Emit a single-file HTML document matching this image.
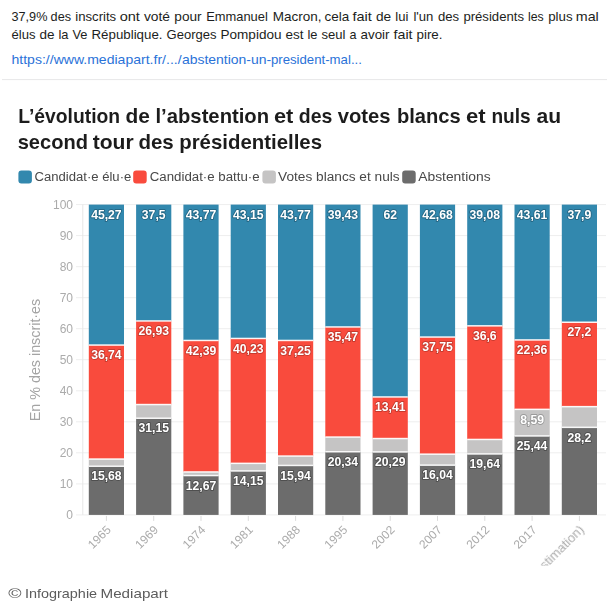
<!DOCTYPE html>
<html lang="fr"><head><meta charset="utf-8"><title>Abstention</title>
<style>
html,body{margin:0;padding:0;background:#fff;}
body{width:609px;height:610px;overflow:hidden;position:relative;font-family:"Liberation Sans",sans-serif;}
svg{position:absolute;left:0;top:0;display:block}
text{font-family:"Liberation Sans",sans-serif}
.p{font-size:13.2px;fill:#1c1e21}
.lk{font-size:13.2px;fill:#2a72d8}
.t{font-weight:bold;font-size:20.8px;fill:#1f1f1f}
.lg{font-size:12.3px;fill:#484848}
.ax{font-size:12px;fill:#ababab}
.bl{font-weight:bold;font-size:12.2px;fill:#fff;text-anchor:middle;paint-order:stroke;stroke-width:1.8px;stroke-linejoin:round}
.ft{font-size:13.4px;fill:#5c5c5c}
</style></head><body>
<svg width="609" height="610" viewBox="0 0 609 610">
<rect x="0" y="0" width="609" height="610" fill="#fff"/>

<text class="p" x="11.5" y="21.1" textLength="35.9" lengthAdjust="spacingAndGlyphs">37,9%</text>
<text class="p" x="50.6" y="21.1" textLength="20.4" lengthAdjust="spacingAndGlyphs">des</text>
<text class="p" x="75.3" y="21.1" textLength="40.9" lengthAdjust="spacingAndGlyphs">inscrits</text>
<text class="p" x="119.7" y="21.1" textLength="20.2" lengthAdjust="spacingAndGlyphs">ont</text>
<text class="p" x="143.9" y="21.1" textLength="26.1" lengthAdjust="spacingAndGlyphs">voté</text>
<text class="p" x="174.3" y="21.1" textLength="27.3" lengthAdjust="spacingAndGlyphs">pour</text>
<text class="p" x="206.2" y="21.1" textLength="61.6" lengthAdjust="spacingAndGlyphs">Emmanuel</text>
<text class="p" x="272.8" y="21.1" textLength="48.8" lengthAdjust="spacingAndGlyphs">Macron,</text>
<text class="p" x="324.5" y="21.1" textLength="24.7" lengthAdjust="spacingAndGlyphs">cela</text>
<text class="p" x="352.4" y="21.1" textLength="19.4" lengthAdjust="spacingAndGlyphs">fait</text>
<text class="p" x="375.9" y="21.1" textLength="15.2" lengthAdjust="spacingAndGlyphs">de</text>
<text class="p" x="395.3" y="21.1" textLength="13.1" lengthAdjust="spacingAndGlyphs">lui</text>
<text class="p" x="413.4" y="21.1" textLength="20.0" lengthAdjust="spacingAndGlyphs">l'un</text>
<text class="p" x="438.0" y="21.1" textLength="21.2" lengthAdjust="spacingAndGlyphs">des</text>
<text class="p" x="463.4" y="21.1" textLength="60.6" lengthAdjust="spacingAndGlyphs">présidents</text>
<text class="p" x="528.0" y="21.1" textLength="15.7" lengthAdjust="spacingAndGlyphs">les</text>
<text class="p" x="548.2" y="21.1" textLength="24.4" lengthAdjust="spacingAndGlyphs">plus</text>
<text class="p" x="575.8" y="21.1" textLength="23.0" lengthAdjust="spacingAndGlyphs">mal</text>
<text class="p" x="11.5" y="38.9" textLength="24.0" lengthAdjust="spacingAndGlyphs">élus</text>
<text class="p" x="39.5" y="38.9" textLength="15.0" lengthAdjust="spacingAndGlyphs">de</text>
<text class="p" x="58.5" y="38.9" textLength="10.0" lengthAdjust="spacingAndGlyphs">la</text>
<text class="p" x="72.5" y="38.9" textLength="15.0" lengthAdjust="spacingAndGlyphs">Ve</text>
<text class="p" x="91.5" y="38.9" textLength="71.0" lengthAdjust="spacingAndGlyphs">République.</text>
<text class="p" x="166.5" y="38.9" textLength="50.0" lengthAdjust="spacingAndGlyphs">Georges</text>
<text class="p" x="220.5" y="38.9" textLength="61.0" lengthAdjust="spacingAndGlyphs">Pompidou</text>
<text class="p" x="285.5" y="38.9" textLength="18.0" lengthAdjust="spacingAndGlyphs">est</text>
<text class="p" x="307.5" y="38.9" textLength="10.0" lengthAdjust="spacingAndGlyphs">le</text>
<text class="p" x="321.5" y="38.9" textLength="24.0" lengthAdjust="spacingAndGlyphs">seul</text>
<text class="p" x="349.5" y="38.9" textLength="7.0" lengthAdjust="spacingAndGlyphs">a</text>
<text class="p" x="360.5" y="38.9" textLength="29.0" lengthAdjust="spacingAndGlyphs">avoir</text>
<text class="p" x="393.5" y="38.9" textLength="19.0" lengthAdjust="spacingAndGlyphs">fait</text>
<text class="p" x="416.5" y="38.9" textLength="26.0" lengthAdjust="spacingAndGlyphs">pire.</text>
<text class="lk" x="11.5" y="64.2" textLength="170.1" lengthAdjust="spacingAndGlyphs">https://www.mediapart.fr/.../</text>
<text class="lk" x="181.9" y="64.2" textLength="89.2" lengthAdjust="spacingAndGlyphs">abstention-un-</text>
<text class="lk" x="270.9" y="64.2" textLength="91.0" lengthAdjust="spacingAndGlyphs">president-mal...</text>
<rect x="2" y="79.1" width="605" height="1" fill="#e7e7e8"/>
<defs><filter id="soft" x="-2%" y="-2%" width="104%" height="104%"><feGaussianBlur stdDeviation="0.35"/></filter></defs><g filter="url(#soft)">
<text class="t" x="18.2" y="123.0" textLength="101.9" lengthAdjust="spacingAndGlyphs">L’évolution</text>
<text class="t" x="125.5" y="123.0" textLength="24.4" lengthAdjust="spacingAndGlyphs">de</text>
<text class="t" x="155.5" y="123.0" textLength="113.6" lengthAdjust="spacingAndGlyphs">l’abstention</text>
<text class="t" x="273.9" y="123.0" textLength="19.4" lengthAdjust="spacingAndGlyphs">et</text>
<text class="t" x="298.8" y="123.0" textLength="33.6" lengthAdjust="spacingAndGlyphs">des</text>
<text class="t" x="337.7" y="123.0" textLength="52.9" lengthAdjust="spacingAndGlyphs">votes</text>
<text class="t" x="396.9" y="123.0" textLength="63.8" lengthAdjust="spacingAndGlyphs">blancs</text>
<text class="t" x="466.0" y="123.0" textLength="19.6" lengthAdjust="spacingAndGlyphs">et</text>
<text class="t" x="491.4" y="123.0" textLength="39.3" lengthAdjust="spacingAndGlyphs">nuls</text>
<text class="t" x="536.5" y="123.0" textLength="24.6" lengthAdjust="spacingAndGlyphs">au</text>
<text class="t" x="17.7" y="148.5" textLength="70.3" lengthAdjust="spacingAndGlyphs">second</text>
<text class="t" x="92.7" y="148.5" textLength="41.0" lengthAdjust="spacingAndGlyphs">tour</text>
<text class="t" x="138.4" y="148.5" textLength="35.4" lengthAdjust="spacingAndGlyphs">des</text>
<text class="t" x="179.2" y="148.5" textLength="142.8" lengthAdjust="spacingAndGlyphs">présidentielles</text>
<rect x="18.4" y="170.6" width="13.5" height="12.9" rx="3" fill="#3388ae"/>
<text class="lg" x="34.5" y="181.2" textLength="96.8" lengthAdjust="spacingAndGlyphs">Candidat·e élu·e</text>
<rect x="133.2" y="170.6" width="13.5" height="12.9" rx="3" fill="#f94c3e"/>
<text class="lg" x="149.8" y="181.2" textLength="109.8" lengthAdjust="spacingAndGlyphs">Candidat·e battu·e</text>
<rect x="262.4" y="170.6" width="13.5" height="12.9" rx="3" fill="#c5c4c4"/>
<text class="lg" x="278.1" y="181.2" textLength="121.5" lengthAdjust="spacingAndGlyphs">Votes blancs et nuls</text>
<rect x="402.2" y="170.6" width="13.5" height="12.9" rx="3" fill="#6c6c6c"/>
<text class="lg" x="418.2" y="181.2" textLength="72.4" lengthAdjust="spacingAndGlyphs">Abstentions</text>
<rect x="76" y="514.4" width="530" height="1" fill="#eeeeee"/>
<text class="ax" x="73" y="519.2" text-anchor="end">0</text>
<rect x="76" y="483.4" width="530" height="1" fill="#eeeeee"/>
<text class="ax" x="73" y="488.2" text-anchor="end">10</text>
<rect x="76" y="452.3" width="530" height="1" fill="#eeeeee"/>
<text class="ax" x="73" y="457.1" text-anchor="end">20</text>
<rect x="76" y="421.3" width="530" height="1" fill="#eeeeee"/>
<text class="ax" x="73" y="426.1" text-anchor="end">30</text>
<rect x="76" y="390.3" width="530" height="1" fill="#eeeeee"/>
<text class="ax" x="73" y="395.1" text-anchor="end">40</text>
<rect x="76" y="359.2" width="530" height="1" fill="#eeeeee"/>
<text class="ax" x="73" y="364.1" text-anchor="end">50</text>
<rect x="76" y="328.2" width="530" height="1" fill="#eeeeee"/>
<text class="ax" x="73" y="333.0" text-anchor="end">60</text>
<rect x="76" y="297.2" width="530" height="1" fill="#eeeeee"/>
<text class="ax" x="73" y="302.0" text-anchor="end">70</text>
<rect x="76" y="266.2" width="530" height="1" fill="#eeeeee"/>
<text class="ax" x="73" y="271.0" text-anchor="end">80</text>
<rect x="76" y="235.1" width="530" height="1" fill="#eeeeee"/>
<text class="ax" x="73" y="239.9" text-anchor="end">90</text>
<rect x="76" y="204.1" width="530" height="1" fill="#eeeeee"/>
<text class="ax" x="73" y="208.9" text-anchor="end">100</text>
<rect x="82.3" y="204.6" width="1" height="310.3" fill="#e6e6e6"/>
<text class="ax" style="font-size:13.8px;fill:#a4a4a4" transform="translate(39.8,360) rotate(-90)" text-anchor="middle" textLength="122.5" lengthAdjust="spacingAndGlyphs">En % des inscrit·es</text>
<rect x="88.8" y="204.6" width="35.2" height="140.5" fill="#3388ae"/>
<rect x="88.8" y="345.1" width="35.2" height="114.0" fill="#f94c3e"/>
<rect x="88.8" y="459.1" width="35.2" height="7.2" fill="#c5c4c4"/>
<rect x="88.8" y="466.2" width="35.2" height="48.7" fill="#6c6c6c"/>
<rect x="88.8" y="344.3" width="35.2" height="1.5" fill="#fff" opacity="0.92"/>
<rect x="88.8" y="458.3" width="35.2" height="1.5" fill="#fff" opacity="0.92"/>
<rect x="88.8" y="465.5" width="35.2" height="1.5" fill="#fff" opacity="0.92"/>
<text class="bl" stroke="#256886" x="106.4" y="218.8">45,27</text>
<text class="bl" stroke="#c63a2e" x="106.4" y="359.3">36,74</text>
<text class="bl" stroke="#4f4f4f" x="106.4" y="480.4">15,68</text>
<rect x="105.9" y="515.9" width="1" height="5" fill="#dcdcdc"/>
<text class="ax" text-anchor="end" transform="translate(111.7,530.5) rotate(-45)">1965</text>
<rect x="136.1" y="204.6" width="35.2" height="116.4" fill="#3388ae"/>
<rect x="136.1" y="321.0" width="35.2" height="83.6" fill="#f94c3e"/>
<rect x="136.1" y="404.5" width="35.2" height="13.7" fill="#c5c4c4"/>
<rect x="136.1" y="418.2" width="35.2" height="96.7" fill="#6c6c6c"/>
<rect x="136.1" y="320.2" width="35.2" height="1.5" fill="#fff" opacity="0.92"/>
<rect x="136.1" y="403.8" width="35.2" height="1.5" fill="#fff" opacity="0.92"/>
<rect x="136.1" y="417.5" width="35.2" height="1.5" fill="#fff" opacity="0.92"/>
<text class="bl" stroke="#256886" x="153.7" y="218.8">37,5</text>
<text class="bl" stroke="#c63a2e" x="153.7" y="335.2">26,93</text>
<text class="bl" stroke="#4f4f4f" x="153.7" y="432.4">31,15</text>
<rect x="153.2" y="515.9" width="1" height="5" fill="#dcdcdc"/>
<text class="ax" text-anchor="end" transform="translate(159.0,530.5) rotate(-45)">1969</text>
<rect x="183.4" y="204.6" width="35.2" height="135.8" fill="#3388ae"/>
<rect x="183.4" y="340.4" width="35.2" height="131.5" fill="#f94c3e"/>
<rect x="183.4" y="472.0" width="35.2" height="3.6" fill="#c5c4c4"/>
<rect x="183.4" y="475.6" width="35.2" height="39.3" fill="#6c6c6c"/>
<rect x="183.4" y="339.7" width="35.2" height="1.5" fill="#fff" opacity="0.92"/>
<rect x="183.4" y="471.2" width="35.2" height="1.5" fill="#fff" opacity="0.92"/>
<rect x="183.4" y="474.8" width="35.2" height="1.5" fill="#fff" opacity="0.92"/>
<text class="bl" stroke="#256886" x="201.0" y="218.8">43,77</text>
<text class="bl" stroke="#c63a2e" x="201.0" y="354.6">42,39</text>
<text class="bl" stroke="#4f4f4f" x="201.0" y="489.8">12,67</text>
<rect x="200.5" y="515.9" width="1" height="5" fill="#dcdcdc"/>
<text class="ax" text-anchor="end" transform="translate(206.3,530.5) rotate(-45)">1974</text>
<rect x="230.7" y="204.6" width="35.2" height="133.9" fill="#3388ae"/>
<rect x="230.7" y="338.5" width="35.2" height="124.8" fill="#f94c3e"/>
<rect x="230.7" y="463.3" width="35.2" height="7.7" fill="#c5c4c4"/>
<rect x="230.7" y="471.0" width="35.2" height="43.9" fill="#6c6c6c"/>
<rect x="230.7" y="337.7" width="35.2" height="1.5" fill="#fff" opacity="0.92"/>
<rect x="230.7" y="462.6" width="35.2" height="1.5" fill="#fff" opacity="0.92"/>
<rect x="230.7" y="470.2" width="35.2" height="1.5" fill="#fff" opacity="0.92"/>
<text class="bl" stroke="#256886" x="248.3" y="218.8">43,15</text>
<text class="bl" stroke="#c63a2e" x="248.3" y="352.7">40,23</text>
<text class="bl" stroke="#4f4f4f" x="248.3" y="485.2">14,15</text>
<rect x="247.8" y="515.9" width="1" height="5" fill="#dcdcdc"/>
<text class="ax" text-anchor="end" transform="translate(253.6,530.5) rotate(-45)">1981</text>
<rect x="278.0" y="204.6" width="35.2" height="135.8" fill="#3388ae"/>
<rect x="278.0" y="340.4" width="35.2" height="115.6" fill="#f94c3e"/>
<rect x="278.0" y="456.0" width="35.2" height="9.4" fill="#c5c4c4"/>
<rect x="278.0" y="465.4" width="35.2" height="49.5" fill="#6c6c6c"/>
<rect x="278.0" y="339.7" width="35.2" height="1.5" fill="#fff" opacity="0.92"/>
<rect x="278.0" y="455.3" width="35.2" height="1.5" fill="#fff" opacity="0.92"/>
<rect x="278.0" y="464.7" width="35.2" height="1.5" fill="#fff" opacity="0.92"/>
<text class="bl" stroke="#256886" x="295.6" y="218.8">43,77</text>
<text class="bl" stroke="#c63a2e" x="295.6" y="354.6">37,25</text>
<text class="bl" stroke="#4f4f4f" x="295.6" y="479.6">15,94</text>
<rect x="295.1" y="515.9" width="1" height="5" fill="#dcdcdc"/>
<text class="ax" text-anchor="end" transform="translate(300.9,530.5) rotate(-45)">1988</text>
<rect x="325.3" y="204.6" width="35.2" height="122.4" fill="#3388ae"/>
<rect x="325.3" y="327.0" width="35.2" height="110.1" fill="#f94c3e"/>
<rect x="325.3" y="437.0" width="35.2" height="14.8" fill="#c5c4c4"/>
<rect x="325.3" y="451.8" width="35.2" height="63.1" fill="#6c6c6c"/>
<rect x="325.3" y="326.2" width="35.2" height="1.5" fill="#fff" opacity="0.92"/>
<rect x="325.3" y="436.3" width="35.2" height="1.5" fill="#fff" opacity="0.92"/>
<rect x="325.3" y="451.0" width="35.2" height="1.5" fill="#fff" opacity="0.92"/>
<text class="bl" stroke="#256886" x="342.9" y="218.8">39,43</text>
<text class="bl" stroke="#c63a2e" x="342.9" y="341.2">35,47</text>
<text class="bl" stroke="#4f4f4f" x="342.9" y="466.0">20,34</text>
<rect x="342.4" y="515.9" width="1" height="5" fill="#dcdcdc"/>
<text class="ax" text-anchor="end" transform="translate(348.2,530.5) rotate(-45)">1995</text>
<rect x="372.6" y="204.6" width="35.2" height="192.4" fill="#3388ae"/>
<rect x="372.6" y="397.0" width="35.2" height="41.6" fill="#f94c3e"/>
<rect x="372.6" y="438.6" width="35.2" height="13.3" fill="#c5c4c4"/>
<rect x="372.6" y="451.9" width="35.2" height="63.0" fill="#6c6c6c"/>
<rect x="372.6" y="396.2" width="35.2" height="1.5" fill="#fff" opacity="0.92"/>
<rect x="372.6" y="437.8" width="35.2" height="1.5" fill="#fff" opacity="0.92"/>
<rect x="372.6" y="451.2" width="35.2" height="1.5" fill="#fff" opacity="0.92"/>
<text class="bl" stroke="#256886" x="390.2" y="218.8">62</text>
<text class="bl" stroke="#c63a2e" x="390.2" y="411.2">13,41</text>
<text class="bl" stroke="#4f4f4f" x="390.2" y="466.1">20,29</text>
<rect x="389.7" y="515.9" width="1" height="5" fill="#dcdcdc"/>
<text class="ax" text-anchor="end" transform="translate(395.5,530.5) rotate(-45)">2002</text>
<rect x="419.9" y="204.6" width="35.2" height="132.4" fill="#3388ae"/>
<rect x="419.9" y="337.0" width="35.2" height="117.1" fill="#f94c3e"/>
<rect x="419.9" y="454.2" width="35.2" height="11.0" fill="#c5c4c4"/>
<rect x="419.9" y="465.1" width="35.2" height="49.8" fill="#6c6c6c"/>
<rect x="419.9" y="336.3" width="35.2" height="1.5" fill="#fff" opacity="0.92"/>
<rect x="419.9" y="453.4" width="35.2" height="1.5" fill="#fff" opacity="0.92"/>
<rect x="419.9" y="464.4" width="35.2" height="1.5" fill="#fff" opacity="0.92"/>
<text class="bl" stroke="#256886" x="437.5" y="218.8">42,68</text>
<text class="bl" stroke="#c63a2e" x="437.5" y="351.2">37,75</text>
<text class="bl" stroke="#4f4f4f" x="437.5" y="479.3">16,04</text>
<rect x="437.0" y="515.9" width="1" height="5" fill="#dcdcdc"/>
<text class="ax" text-anchor="end" transform="translate(442.8,530.5) rotate(-45)">2007</text>
<rect x="467.2" y="204.6" width="35.2" height="121.3" fill="#3388ae"/>
<rect x="467.2" y="325.9" width="35.2" height="113.6" fill="#f94c3e"/>
<rect x="467.2" y="439.4" width="35.2" height="14.5" fill="#c5c4c4"/>
<rect x="467.2" y="454.0" width="35.2" height="60.9" fill="#6c6c6c"/>
<rect x="467.2" y="325.1" width="35.2" height="1.5" fill="#fff" opacity="0.92"/>
<rect x="467.2" y="438.7" width="35.2" height="1.5" fill="#fff" opacity="0.92"/>
<rect x="467.2" y="453.2" width="35.2" height="1.5" fill="#fff" opacity="0.92"/>
<text class="bl" stroke="#256886" x="484.8" y="218.8">39,08</text>
<text class="bl" stroke="#c63a2e" x="484.8" y="340.1">36,6</text>
<text class="bl" stroke="#4f4f4f" x="484.8" y="468.2">19,64</text>
<rect x="484.3" y="515.9" width="1" height="5" fill="#dcdcdc"/>
<text class="ax" text-anchor="end" transform="translate(490.1,530.5) rotate(-45)">2012</text>
<rect x="514.5" y="204.6" width="35.2" height="135.3" fill="#3388ae"/>
<rect x="514.5" y="339.9" width="35.2" height="69.4" fill="#f94c3e"/>
<rect x="514.5" y="409.3" width="35.2" height="26.7" fill="#c5c4c4"/>
<rect x="514.5" y="436.0" width="35.2" height="78.9" fill="#6c6c6c"/>
<rect x="514.5" y="339.2" width="35.2" height="1.5" fill="#fff" opacity="0.92"/>
<rect x="514.5" y="408.6" width="35.2" height="1.5" fill="#fff" opacity="0.92"/>
<rect x="514.5" y="435.2" width="35.2" height="1.5" fill="#fff" opacity="0.92"/>
<text class="bl" stroke="#256886" x="532.1" y="218.8">43,61</text>
<text class="bl" stroke="#c63a2e" x="532.1" y="354.1">22,36</text>
<text class="bl" stroke="#9a9a9a" x="532.1" y="423.5">8,59</text>
<text class="bl" stroke="#4f4f4f" x="532.1" y="450.2">25,44</text>
<rect x="531.6" y="515.9" width="1" height="5" fill="#dcdcdc"/>
<text class="ax" text-anchor="end" transform="translate(537.4,530.5) rotate(-45)">2017</text>
<rect x="561.8" y="204.6" width="35.2" height="117.6" fill="#3388ae"/>
<rect x="561.8" y="322.2" width="35.2" height="84.4" fill="#f94c3e"/>
<rect x="561.8" y="406.6" width="35.2" height="20.8" fill="#c5c4c4"/>
<rect x="561.8" y="427.4" width="35.2" height="87.5" fill="#6c6c6c"/>
<rect x="561.8" y="321.5" width="35.2" height="1.5" fill="#fff" opacity="0.92"/>
<rect x="561.8" y="405.9" width="35.2" height="1.5" fill="#fff" opacity="0.92"/>
<rect x="561.8" y="426.6" width="35.2" height="1.5" fill="#fff" opacity="0.92"/>
<text class="bl" stroke="#256886" x="579.4" y="218.8">37,9</text>
<text class="bl" stroke="#c63a2e" x="579.4" y="336.4">27,2</text>
<text class="bl" stroke="#4f4f4f" x="579.4" y="441.6">28,2</text>
<rect x="578.9" y="515.9" width="1" height="5" fill="#dcdcdc"/>
<text class="ax" text-anchor="end" textLength="100.5" lengthAdjust="spacingAndGlyphs" transform="translate(584.7,530.5) rotate(-45)">2022 (estimation)</text>
<rect x="0" y="565.7" width="609" height="45" fill="#fff"/>
<text class="ft" x="8.3" y="597.5" textLength="13.3" lengthAdjust="spacingAndGlyphs">©</text>
<text class="ft" x="25.0" y="597.5" textLength="72.1" lengthAdjust="spacingAndGlyphs">Infographie</text>
<text class="ft" x="100.5" y="597.5" textLength="67.6" lengthAdjust="spacingAndGlyphs">Mediapart</text>
</g></svg></body></html>
